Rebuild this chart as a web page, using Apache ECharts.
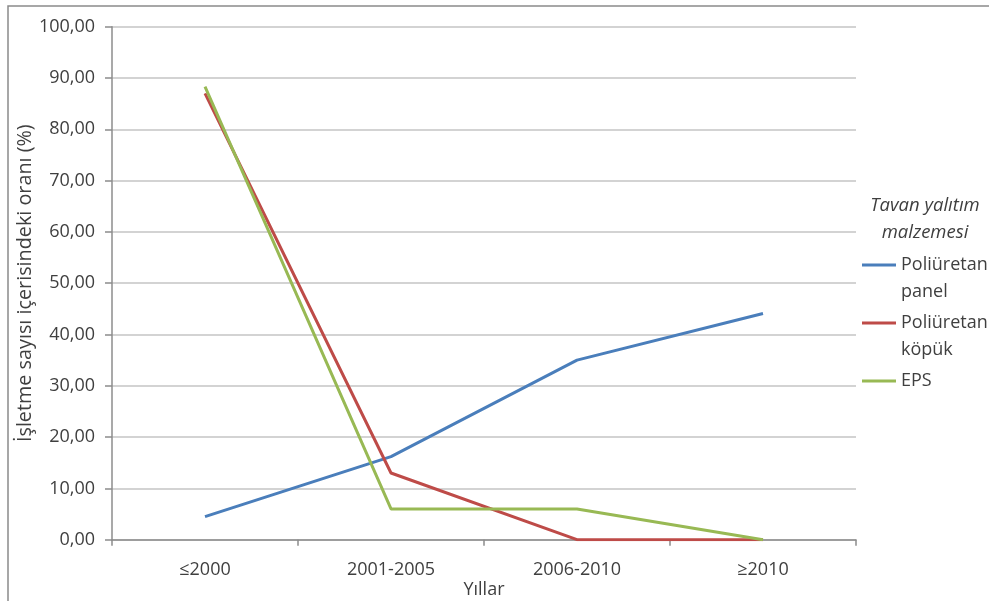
<!DOCTYPE html>
<html>
<head>
<meta charset="utf-8">
<script src="https://cdn.jsdelivr.net/npm/echarts@6/dist/echarts.min.js"></script>
<style>
  html, body { margin: 0; padding: 0; background: #ffffff; }
  #chart { width: 989px; height: 601px; }
</style>
</head>
<body>
<div id="chart"></div>
<script>
// Year groups on the x axis
const categories = ['≤2000', '2001-2005', '2006-2010', '≥2010'];

// Share of businesses (%) using each roof insulation material
const poliuretanPanel = [4.5, 16.2, 35.0, 44.1];
const poliuretanKopuk = [87.0, 13.0, 0, 0];
const eps = [88.3, 6.0, 6.0, 0];

const seriesNames = ['Poliüretan panel', 'Poliüretan köpük', 'EPS'];
// Legend labels: an empty first line keeps the icon level with the first text line
const legendLabels = ['\nPoliüretan\npanel', '\nPoliüretan\nköpük', '\nEPS\n'];
const colors = ['#4a7ebb', '#be4b48', '#98b954'];

const FONT = '"Open Sans", "Noto Sans", sans-serif';
const TEXT = '#3f3f3f';

const chart = echarts.init(document.getElementById('chart'), null, { renderer: 'canvas' });

const seriesData = [poliuretanPanel, poliuretanKopuk, eps];

const option = {
  backgroundColor: '#ffffff',
  animation: false,
  textStyle: { fontFamily: FONT },
  grid: {
    left: 112, right: 133, top: 26.7, bottom: 61.3,
    containLabel: false,
    outerBoundsMode: 'none'
  },
  xAxis: {
    type: 'category',
    data: categories,
    boundaryGap: true,
    name: 'Yıllar',
    nameLocation: 'middle',
    nameGap: 41,
    nameMoveOverlap: false,
    nameTextStyle: { fontFamily: FONT, fontSize: 18, color: TEXT },
    axisLine: { lineStyle: { color: '#8c8c8c', width: 1.5 } },
    axisTick: { show: true, length: 6, alignWithLabel: false, lineStyle: { color: '#8c8c8c', width: 1.5 } },
    axisLabel: { fontFamily: FONT, fontSize: 18, color: TEXT, margin: 21 },
    splitLine: { show: false }
  },
  yAxis: {
    type: 'value',
    min: 0,
    max: 100,
    interval: 10,
    name: 'İşletme sayısı içerisindeki oranı (%)',
    nameLocation: 'middle',
    nameRotate: 90,
    nameGap: 77,
    nameMoveOverlap: false,
    nameTextStyle: { fontFamily: FONT, fontSize: 19.8, color: TEXT },
    axisLine: { show: true, lineStyle: { color: '#8c8c8c', width: 1.5 } },
    axisTick: { show: true, length: 7, lineStyle: { color: '#8c8c8c', width: 1.5 } },
    axisLabel: {
      fontFamily: FONT, fontSize: 18, color: TEXT, margin: 17,
      formatter: v => v.toFixed(2).replace('.', ',')
    },
    splitLine: { show: true, lineStyle: { color: '#c4c4c4', width: 1.5 } }
  },
  legend: {
    orient: 'vertical',
    left: 862,
    top: 224.5,
    padding: 0,
    itemGap: -23,
    itemWidth: 34,
    itemHeight: 3,
    icon: 'rect',
    selectedMode: false,
    data: seriesNames.map((n, i) => ({ name: n, itemStyle: { color: colors[i] } })),
    formatter: name => legendLabels[seriesNames.indexOf(name)],
    textStyle: {
      fontFamily: FONT, fontSize: 18, color: TEXT,
      lineHeight: 27
    }
  },
  graphic: [
    {
      type: 'rect',
      silent: true,
      z: -10,
      shape: { x: 8, y: 6, width: 1000, height: 620 },
      style: { fill: 'none', stroke: '#8a8a8a', lineWidth: 1.5 }
    },
    {
      type: 'text',
      silent: true,
      x: 925,
      y: 219,
      style: {
        text: 'Tavan yalıtım\nmalzemesi',
        fontFamily: FONT,
        fontSize: 18.5,
        fontStyle: 'italic',
        fill: TEXT,
        lineHeight: 27,
        align: 'center',
        verticalAlign: 'middle'
      }
    }
  ],
  series: seriesNames.map((n, i) => ({
    name: n,
    type: 'line',
    data: seriesData[i],
    symbol: 'none',
    smooth: false,
    lineStyle: { color: colors[i], width: 3 },
    itemStyle: { color: colors[i] },
    z: 2 + i
  }))
};

chart.setOption(option);
</script>
</body>
</html>
